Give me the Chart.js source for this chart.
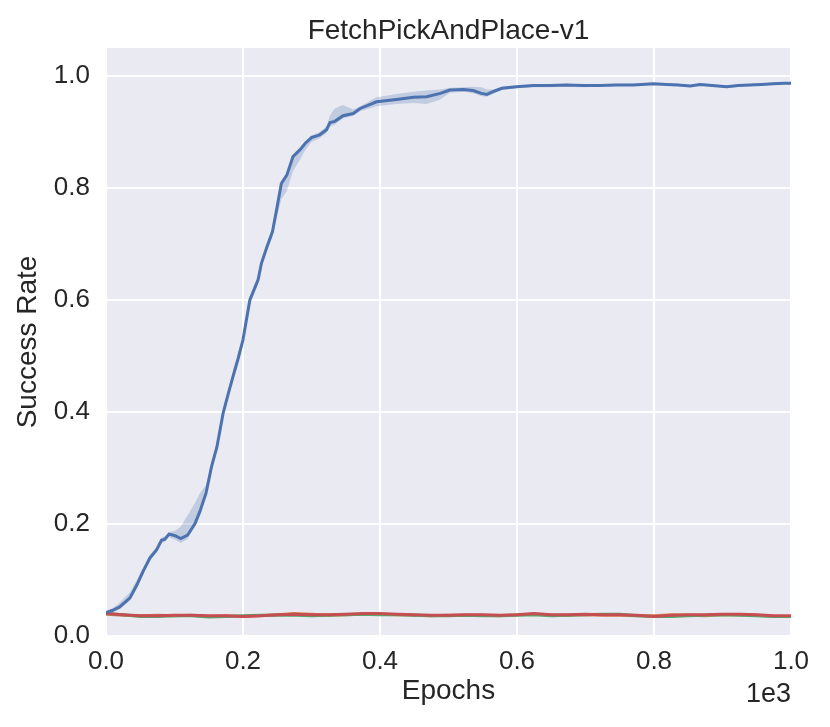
<!DOCTYPE html>
<html>
<head>
<meta charset="utf-8">
<script src="https://cdn.jsdelivr.net/npm/chart.js@4/dist/chart.umd.min.js"></script>
<style>
  body { margin: 0; background: #fff; }
  canvas { display: block; }
</style>
</head>
<body>
<canvas id="chart" width="830" height="727"></canvas>
<script>
// blue run: mean success rate and its shaded band
const blueEpochs = [0, 10, 20, 35, 45, 54, 64, 74, 81, 86, 92, 101, 109, 119, 130, 137, 146, 154, 162, 171, 179,
    186, 193, 200, 210, 222, 227, 235, 243, 249, 256, 264, 273, 283, 291, 300, 312, 322, 327, 334, 346, 361, 371,
    395, 424, 449, 468, 488, 502, 522, 536, 548, 556, 565, 578, 599, 624, 648, 672, 697, 721, 745, 770, 799, 818,
    835, 853, 867, 885, 906, 923, 940, 957, 974, 990, 1000];
const blueMean = [0.042, 0.046, 0.052, 0.068, 0.091, 0.115, 0.139, 0.154, 0.171, 0.173, 0.182, 0.179, 0.174, 0.180,
    0.201, 0.222, 0.255, 0.302, 0.338, 0.398, 0.435, 0.466, 0.496, 0.529, 0.600, 0.636, 0.666, 0.695, 0.722, 0.761,
    0.808, 0.823, 0.856, 0.868, 0.880, 0.890, 0.895, 0.904, 0.917, 0.919, 0.929, 0.933, 0.942, 0.954, 0.958, 0.962,
    0.963, 0.969, 0.975, 0.976, 0.974, 0.969, 0.967, 0.972, 0.978, 0.981, 0.983, 0.983, 0.984, 0.983, 0.983, 0.984,
    0.984, 0.986, 0.985, 0.984, 0.982, 0.985, 0.983, 0.981, 0.983, 0.984, 0.985, 0.986, 0.987, 0.987];
const blueLow = [0.040, 0.043, 0.048, 0.063, 0.085, 0.110, 0.134, 0.149, 0.166, 0.168, 0.177, 0.172, 0.166, 0.173,
    0.196, 0.217, 0.250, 0.296, 0.333, 0.392, 0.428, 0.460, 0.490, 0.522, 0.592, 0.628, 0.659, 0.688, 0.712, 0.745,
    0.780, 0.795, 0.830, 0.850, 0.868, 0.882, 0.889, 0.898, 0.910, 0.913, 0.924, 0.929, 0.937, 0.946, 0.950, 0.952,
    0.950, 0.958, 0.970, 0.972, 0.969, 0.964, 0.963, 0.968, 0.975, 0.978, 0.980, 0.980, 0.981, 0.980, 0.981, 0.982,
    0.982, 0.984, 0.983, 0.982, 0.980, 0.983, 0.981, 0.979, 0.981, 0.982, 0.983, 0.984, 0.985, 0.985];
const blueHigh = [0.044, 0.050, 0.060, 0.078, 0.100, 0.122, 0.145, 0.159, 0.176, 0.178, 0.186, 0.188, 0.195, 0.215,
    0.238, 0.255, 0.270, 0.310, 0.345, 0.405, 0.442, 0.475, 0.503, 0.537, 0.606, 0.643, 0.672, 0.701, 0.727, 0.766,
    0.812, 0.828, 0.860, 0.872, 0.884, 0.894, 0.900, 0.910, 0.930, 0.942, 0.948, 0.940, 0.946, 0.962, 0.968, 0.972,
    0.974, 0.976, 0.979, 0.980, 0.981, 0.980, 0.976, 0.976, 0.981, 0.983, 0.985, 0.985, 0.986, 0.985, 0.985, 0.986,
    0.986, 0.988, 0.987, 0.986, 0.984, 0.987, 0.985, 0.983, 0.985, 0.986, 0.987, 0.988, 0.989, 0.989];

// the three runs that stay flat near 0.04
const flatEpochs = [0, 25, 50, 75, 100, 125, 150, 175, 200, 225, 250, 275, 300, 325, 350, 375, 400, 425, 450, 475,
    500, 525, 550, 575, 600, 625, 650, 675, 700, 725, 750, 775, 800, 825, 850, 875, 900, 925, 950, 975, 1000];
const greenRate = [0.040, 0.038, 0.035, 0.035, 0.036, 0.036, 0.034, 0.035, 0.036, 0.037, 0.037, 0.037, 0.036, 0.037,
    0.038, 0.039, 0.038, 0.038, 0.037, 0.036, 0.036, 0.037, 0.036, 0.036, 0.037, 0.038, 0.036, 0.037, 0.038, 0.039,
    0.039, 0.036, 0.035, 0.035, 0.036, 0.037, 0.038, 0.037, 0.036, 0.035, 0.035];
const orangeRate = [0.039, 0.037, 0.036, 0.037, 0.036, 0.037, 0.035, 0.036, 0.035, 0.036, 0.038, 0.040, 0.039, 0.037,
    0.038, 0.039, 0.039, 0.038, 0.037, 0.036, 0.037, 0.037, 0.037, 0.036, 0.038, 0.039, 0.037, 0.037, 0.038, 0.037,
    0.037, 0.036, 0.036, 0.038, 0.037, 0.036, 0.038, 0.038, 0.037, 0.035, 0.035];
const redRate = [0.040, 0.038, 0.036, 0.036, 0.037, 0.037, 0.036, 0.036, 0.035, 0.036, 0.038, 0.039, 0.038, 0.038,
    0.039, 0.040, 0.040, 0.039, 0.038, 0.037, 0.037, 0.038, 0.038, 0.037, 0.038, 0.040, 0.038, 0.038, 0.039, 0.038,
    0.038, 0.037, 0.035, 0.037, 0.038, 0.038, 0.039, 0.039, 0.038, 0.036, 0.036];

const xTicks = [0, 200, 400, 600, 800, 1000];
const yTicks = [0, 0.2, 0.4, 0.6, 0.8, 1.0];

const textColor = '#262626';
const fontFamily = "'Liberation Sans', Arial, sans-serif";

function pts(xs, ys) {
    return xs.map((x, i) => ({ x: x, y: ys[i] }));
}

const backdrop = {
    id: 'backdrop',
    beforeDraw(chart) {
        const { ctx, chartArea: a } = chart;
        ctx.save();
        ctx.fillStyle = '#ffffff';
        ctx.fillRect(0, 0, chart.width, chart.height);
        ctx.fillStyle = '#EAEAF2';
        ctx.fillRect(a.left, a.top, a.right - a.left, a.bottom - a.top);
        ctx.restore();
    }
};

// title centred over the axes, plus the "1e3" offset text under the right end of x
const extraText = {
    id: 'extraText',
    afterDraw(chart) {
        const { ctx, chartArea: a } = chart;
        ctx.save();
        ctx.fillStyle = textColor;
        ctx.textBaseline = 'alphabetic';
        ctx.font = '28px ' + fontFamily;
        ctx.textAlign = 'center';
        ctx.fillText('FetchPickAndPlace-v1', (a.left + a.right) / 2, 39);
        ctx.font = '27px ' + fontFamily;
        ctx.textAlign = 'right';
        ctx.fillText('1e3', a.right, 702);
        ctx.restore();
    }
};

const lineStyle = { pointRadius: 0, borderWidth: 3, tension: 0, fill: false };

new Chart(document.getElementById('chart').getContext('2d'), {
    type: 'line',
    data: {
        datasets: [
            Object.assign({ label: 'blue', data: pts(blueEpochs, blueMean), borderColor: '#4C72B0' }, lineStyle),
            Object.assign({ label: 'red', data: pts(flatEpochs, redRate), borderColor: '#C44E52' }, lineStyle),
            Object.assign({ label: 'green', data: pts(flatEpochs, greenRate), borderColor: '#55A868' }, lineStyle),
            Object.assign({ label: 'orange', data: pts(flatEpochs, orangeRate), borderColor: '#DD8452' }, lineStyle),
            { label: 'low', data: pts(blueEpochs, blueLow), pointRadius: 0, borderWidth: 0, borderColor: 'rgba(0,0,0,0)', fill: false, tension: 0 },
            { label: 'high', data: pts(blueEpochs, blueHigh), pointRadius: 0, borderWidth: 0, borderColor: 'rgba(0,0,0,0)',
              backgroundColor: 'rgba(76,114,176,0.25)', fill: 4, tension: 0 }
        ]
    },
    options: {
        responsive: false,
        animation: false,
        layout: { padding: { left: 0, right: 39, top: 48, bottom: 0 } },
        plugins: {
            legend: { display: false },
            tooltip: { enabled: false },
            title: { display: false }
        },
        scales: {
            x: {
                type: 'linear',
                min: 0,
                max: 1000,
                afterBuildTicks: (axis) => { axis.ticks = xTicks.map(v => ({ value: v })); },
                afterFit: (axis) => { axis.height = 91; },
                border: { display: false },
                grid: { color: '#ffffff', lineWidth: 2, drawTicks: false },
                ticks: {
                    color: textColor,
                    padding: 10,
                    font: { family: fontFamily, size: 26 },
                    callback: (v) => (v / 1000).toFixed(1)
                },
                title: {
                    display: true,
                    text: 'Epochs',
                    color: textColor,
                    font: { family: fontFamily, size: 28 },
                    padding: { top: 0, bottom: 19 }
                }
            },
            y: {
                type: 'linear',
                min: 0,
                max: 1.05,
                afterBuildTicks: (axis) => { axis.ticks = yTicks.map(v => ({ value: v })); },
                afterFit: (axis) => { axis.width = 106; },
                border: { display: false },
                grid: { color: '#ffffff', lineWidth: 2, drawTicks: false },
                ticks: {
                    color: textColor,
                    padding: 16,
                    font: { family: fontFamily, size: 26 },
                    callback: (v) => v.toFixed(1)
                },
                title: {
                    display: true,
                    text: 'Success Rate',
                    color: textColor,
                    font: { family: fontFamily, size: 28 },
                    padding: { top: 11, bottom: 0 }
                }
            }
        }
    },
    plugins: [backdrop, extraText]
});
</script>
</body>
</html>
